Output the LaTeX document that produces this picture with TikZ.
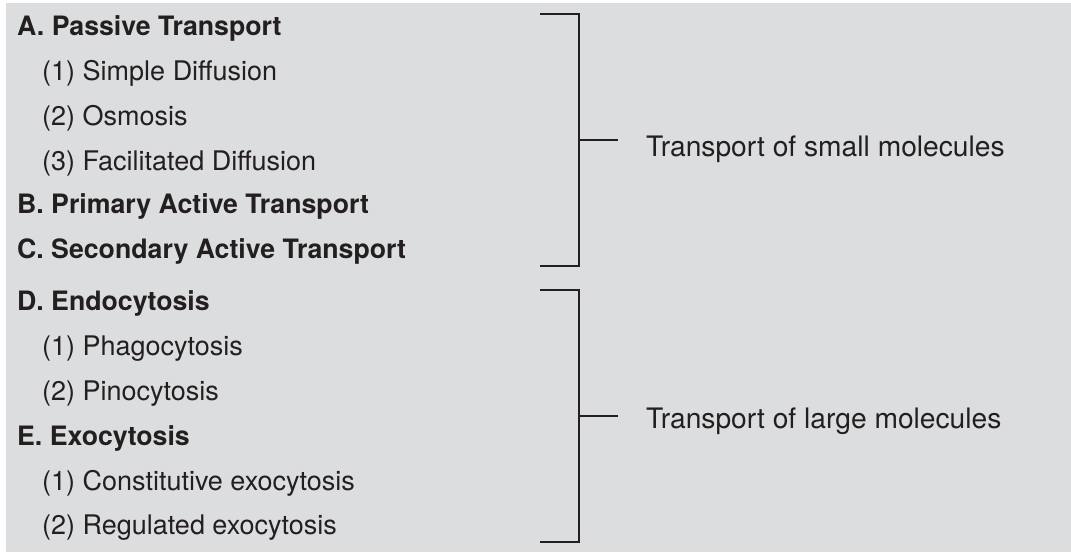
\documentclass[tikz,border=0pt]{standalone}
\usepackage{fontspec}
\setmainfont{TeX Gyre Heros}
\definecolor{panel}{HTML}{DCDDDF}
\definecolor{ink}{HTML}{231F20}

\begin{document}
\begin{tikzpicture}[x=1pt,y=-1pt,line width=2.2pt,draw=ink,
    every node/.style={inner sep=0pt,anchor=base west,text=ink,font=\fontsize{27}{32}\selectfont}]
          \tikzset{head/.style={font=\fontsize{26.7}{32}\selectfont\bfseries}}
          \tikzset{item/.style={}}
          \tikzset{group/.style={font=\fontsize{28.2}{32}\selectfont}}
          \useasboundingbox (0,0) rectangle (1071,552);
          \fill[panel] (6,3) rectangle (1071,552);
          % list of transport types
          \node[head] (passive)     at (16,35)  {A. Passive Transport};
          \node[item] (simple)      at (41,80)  {(1) Simple Diffusion};
          \node[item] (osmosis)     at (41,125) {(2) Osmosis};
          \node[item] (facilitated) at (41,170) {(3) Facilitated Diffusion};
          \node[head] (primary)     at (16,213) {B. Primary Active Transport};
          \node[head] (secondary)   at (16,258) {C. Secondary Active Transport};
          \node[head] (endo)        at (16,310) {D. Endocytosis};
          \node[item] (phago)       at (41,355) {(1) Phagocytosis};
          \node[item] (pino)        at (41,400) {(2) Pinocytosis};
          \node[head] (exo)         at (16,445) {E. Exocytosis};
          \node[item] (constit)     at (41,490) {(1) Constitutive exocytosis};
          \node[item] (regulated)   at (41,534) {(2) Regulated exocytosis};
          % brackets
          \node[group] (small) at (645,156) {Transport of small molecules};
          \node[group] (large) at (645,428) {Transport of large molecules};
          \coordinate (smallmid) at (579,140);
          \coordinate (largemid) at (579,416);
          \draw (540,14) -| (579,266) -- (540,266);
          \draw (540,290) -| (579,542) -- (540,542);
          \draw[shorten >=27pt] (smallmid) -- (smallmid -| small.west);
          \draw[shorten >=27pt] (largemid) -- (largemid -| large.west);
      \end{tikzpicture}
\end{document}
